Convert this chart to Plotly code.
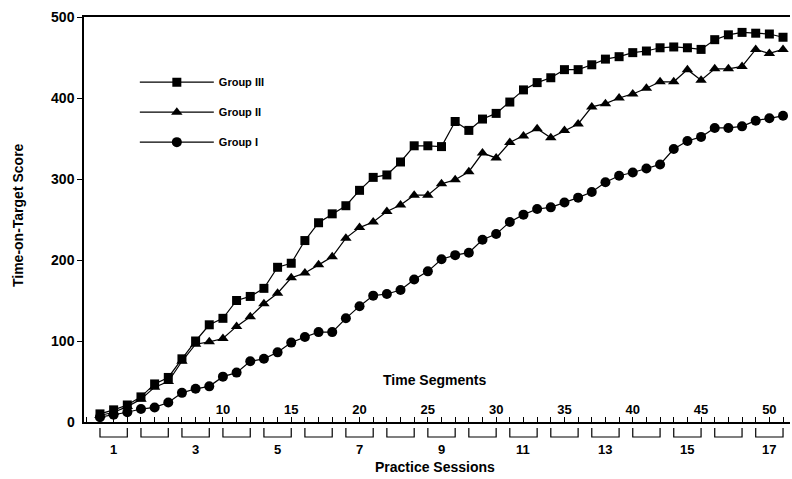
import plotly.graph_objects as go

segments = list(range(1, 52))
group_iii = [10, 15, 21, 31, 47, 55, 78, 100, 120, 128, 150, 155, 165, 191, 196, 224, 246,
             257, 267, 286, 302, 305, 321, 341, 341, 340, 371, 360, 374, 381, 395, 410, 419,
             425, 435, 435, 441, 448, 451, 456, 458, 462, 463, 462, 460, 472, 478, 481, 480,
             479, 475]
group_ii = [8, 12, 19, 28, 43, 50, 75, 96, 99, 103, 118, 130, 146, 159, 178, 184, 194,
            204, 227, 240, 247, 260, 268, 280, 280, 294, 299, 309, 332, 326, 345, 353, 362,
            351, 360, 368, 389, 393, 400, 405, 412, 420, 420, 435, 422, 436, 436, 439, 460,
            455, 460]
group_i = [6, 9, 12, 16, 18, 24, 36, 41, 44, 56, 61, 75, 78, 86, 98, 105, 111,
           111, 128, 143, 156, 158, 163, 176, 186, 201, 206, 209, 225, 232, 247, 256, 263,
           265, 271, 277, 284, 296, 304, 308, 313, 318, 337, 347, 352, 363, 363, 365, 372,
           375, 378]
sessions = list(range(1, 18))
segment_ticks = [10, 15, 20, 25, 30, 35, 40, 45, 50]
y_ticks = [0, 100, 200, 300, 400, 500]

FONT = "Liberation Sans"

fig = go.Figure()
series = [("Group III", group_iii, "square", 9),
          ("Group II", group_ii, "triangle-up", 10),
          ("Group I", group_i, "circle", 10)]
for name, vals, sym, sz in series:
    fig.add_trace(go.Scatter(
        x=segments, y=vals, mode="lines+markers", name=name, legendgroup=name,
        line=dict(color="black", width=1.2),
        marker=dict(symbol=sym, size=sz, color="black"),
    ))

shapes = []
annotations = []
for s in sessions:
    x0 = segments[3 * s - 3]
    x1 = segments[3 * s - 1]
    shapes.append(dict(type="path", xref="x", yref="paper",
                       path=f"M {x0},-0.015 L {x0},-0.037 L {x1},-0.037 L {x1},-0.015",
                       line=dict(color="black", width=1.2)))
    if s % 2 == 1:
        annotations.append(dict(x=segments[3 * s - 2], y=-0.069, xref="x", yref="paper",
                                text=str(s), showarrow=False,
                                font=dict(family=FONT, size=13, color="black", weight="bold"),
                                xanchor="center", yanchor="middle"))

annotations += [
    dict(x=0.497, y=-0.111, xref="paper", yref="paper", text="Practice Sessions",
         showarrow=False, font=dict(family=FONT, size=14, color="black", weight="bold"),
         xanchor="center", yanchor="middle"),
    dict(x=0.497, y=0.104, xref="paper", yref="paper", text="Time Segments",
         showarrow=False, font=dict(family=FONT, size=14, color="black", weight="bold"),
         xanchor="center", yanchor="middle"),
    dict(x=-0.0935, y=0.511, xref="paper", yref="paper", text="Time-on-Target Score",
         textangle=-90, showarrow=False,
         font=dict(family=FONT, size=14, color="black", weight="bold"),
         xanchor="center", yanchor="middle"),
    dict(x=-0.01, y=y_ticks[0], xref="paper", yref="y", text=str(y_ticks[0]),
         showarrow=False, font=dict(family=FONT, size=14, color="black", weight="bold"),
         xanchor="right", yanchor="middle"),
]

fig.update_layout(
    width=792, height=479,
    margin=dict(l=84, r=2, t=17, b=57),
    paper_bgcolor="white", plot_bgcolor="white",
    showlegend=True,
    legend=dict(x=0.072, y=0.875, xanchor="left", yanchor="top",
                font=dict(family=FONT, size=11, color="black", weight="bold"),
                bgcolor="rgba(0,0,0,0)", tracegroupgap=11, itemwidth=74),
    shapes=shapes, annotations=annotations,
)
fig.update_xaxes(range=[-0.17, 51.51], showgrid=False, zeroline=False,
                 showline=True, linecolor="black", linewidth=1.5, mirror=True,
                 tickvals=segment_ticks, ticks="inside", ticklen=5, tickcolor="black",
                 ticklabelposition="inside",
                 tickfont=dict(family=FONT, size=13, color="black", weight="bold"),
                 minor=dict(dtick=1, tick0=0, ticks="inside", ticklen=5, tickcolor="black"))
fig.update_yaxes(range=[0, 500], showgrid=False, zeroline=False,
                 showline=True, linecolor="black", linewidth=1.5,
                 tickvals=y_ticks, ticks="outside", ticklen=5, tickcolor="black",
                 tickfont=dict(family=FONT, size=14, color="black", weight="bold"))

fig.write_html("out.html")
